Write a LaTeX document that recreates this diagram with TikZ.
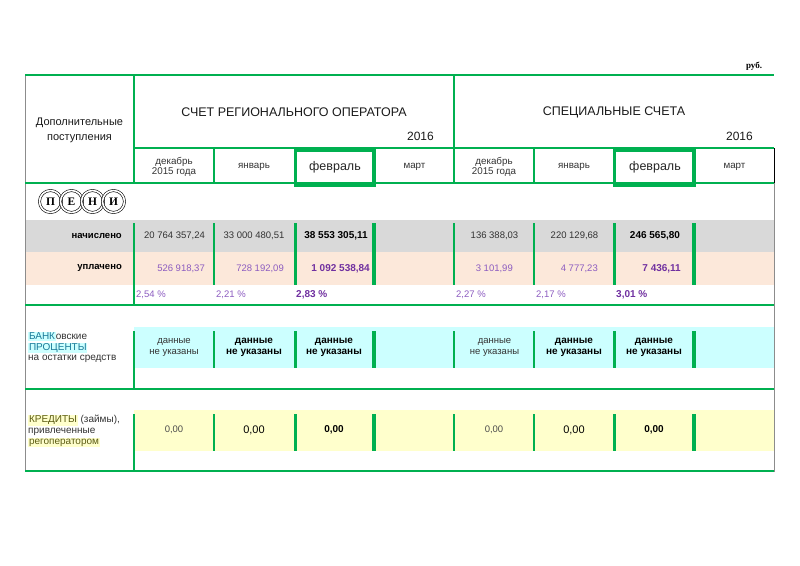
\documentclass[tikz,border=0pt]{standalone}
\usepackage{fontspec}
\setmainfont{Liberation Sans}
\newfontfamily\penifont{Liberation Serif}
\usetikzlibrary{positioning}
\definecolor{exgreen}{HTML}{00B050}
\definecolor{accrued}{HTML}{D9D9D9}
\definecolor{paidbg}{HTML}{FCE8DA}
\definecolor{bankbg}{HTML}{CCFFFF}
\definecolor{creditbg}{HTML}{FFFFCC}
\definecolor{violet}{HTML}{7030A0}
\definecolor{lightviolet}{HTML}{8C5CC0}
\definecolor{txt}{HTML}{333333}
\definecolor{bankteal}{HTML}{1B7A99}
\definecolor{creditolive}{HTML}{5C5C14}
\newcommand{\marked}[3]{{\setlength{\fboxsep}{0.8pt}\colorbox{#1}{\textcolor{#2}{#3}}}}
\tikzstyle{greenline} = [draw=exgreen,line width=2pt]
\tikzstyle{thickgreenline} = [draw=exgreen,line width=3.6pt]
\tikzstyle{greyborder} = [draw=black!45,line width=1pt]
\tikzstyle{cell} = [inner sep=0pt,text=txt,font=\fontsize{9.5}{11}\selectfont]
\tikzstyle{boldcell} = [inner sep=0pt,text=black,font=\fontsize{10}{11}\selectfont\bfseries]
\tikzstyle{month} = [inner sep=0pt,text=txt,align=center,font=\fontsize{9.8}{10.5}\selectfont]
\tikzstyle{bigmonth} = [inner sep=0pt,text=black!85,font=\fontsize{12.5}{14}\selectfont]
\tikzstyle{title} = [inner sep=0pt,text=black!90,font=\fontsize{12.5}{14}\selectfont]
\tikzstyle{sidelabel} = [inner sep=0pt,text=txt,align=left,font=\fontsize{10}{10.6}\selectfont]
\tikzstyle{rowlabel} = [inner sep=0pt,anchor=east,font=\fontsize{9.5}{11}\selectfont\bfseries]
\tikzstyle{pct} = [inner sep=0pt,anchor=west,text=lightviolet,font=\fontsize{9.5}{11}\selectfont]
\tikzstyle{boldpct} = [inner sep=0pt,anchor=west,text=violet,font=\fontsize{10}{11}\selectfont\bfseries]
\tikzstyle{penicircle} = [circle,draw=black,line width=0.6pt,double=white,double distance=1.6pt,minimum size=22pt,inner sep=0pt,font=\penifont\bfseries\fontsize{11.5}{12}\selectfont]

\begin{document}
\begin{tikzpicture}[x=1pt,y=-1pt]
\useasboundingbox (0,0) rectangle (800,565);

    % Coloured rows first
    \fill[accrued] (25,220) rectangle (774,252);
    \fill[paidbg] (25,252) rectangle (774,285);
    \fill[bankbg] (134,327) rectangle (774,368);
    \fill[creditbg] (134,410) rectangle (774,451);

    % Frame of the table
    \draw[greyborder] (25,75) -- (25,472);
    \draw[greyborder] (774,183) -- (774,472);
    \draw[black,line width=1pt] (774,148) -- (774,183);
    \foreach \y in {75,183,305,389,471}
        \draw[greenline] (25,\y) -- (774,\y);
    \draw[greenline] (134,148) -- (774,148);
    \foreach \x in {134,454.3}
        \draw[greenline] (\x,75) -- (\x,183);

    \node[font=\penifont\bfseries\fontsize{9}{10}\selectfont,inner sep=0pt] (rub) at (754,66) {руб.};
    \node[inner sep=0pt,align=center,text=black!90,font=\fontsize{11}{15.6}\selectfont] (extra) at (79.5,130.5) {Дополнительные\\поступления};

    % PENI sign
    \foreach \pos/\name/\label in {{(50.5,201.5)/P1/П}, {(71.5,201.5)/P2/Е}, {(92.5,201.5)/P3/Н}, {(113.5,201.5)/P4/И}}
        \node[penicircle] (\name) at \pos {\label};

    \node[rowlabel] (accr) at (122,236) {начислено};
    \node[rowlabel] (paid) at (122,268) {уплачено};
    \node[sidelabel,anchor=west] (bank) at (28,347.5) {\marked{bankbg}{bankteal}{БАНК}овские\\\marked{bankbg}{bankteal}{ПРОЦЕНТЫ}\\на остатки средств};
    \node[sidelabel,anchor=west] (credit) at (28,431) {\marked{creditbg}{creditolive}{КРЕДИТЫ} (займы),\\привлеченные\\\marked{creditbg}{creditolive}{регоператором}};

    \draw[greenline] (134,223) -- (134,305);
    \draw[greenline] (134,331) -- (134,389);
    \draw[greenline] (134,414) -- (134,471);

    % Regional operator account
    \def\dx{0};
    \node[title] (accA) at (294+\dx,112) {СЧЕТ РЕГИОНАЛЬНОГО ОПЕРАТОРА};
    \node[title,anchor=east,font=\fontsize{12}{13}\selectfont] (yearA) at (434+\dx,136) {2016};
    \draw[greenline] (214.3+\dx,148) -- (214.3+\dx,183);
    \foreach \pos/\name/\label in {{(174+\dx,167)/decA/{декабрь\\2015 года}}, {(254+\dx,167)/janA/январь}, {(414.5+\dx,167)/marA/март}}
        \node[month] (\name) at \pos {\label};
    \node[bigmonth] (febA) at (335+\dx,167.5) {февраль};
    \draw[thickgreenline] (295.5+\dx,150) rectangle (374+\dx,185);

    \foreach \x in {134,214.3}
        \foreach \top/\bot in {223/285, 331/368, 414/451}
            \draw[greenline] (\x+\dx,\top) -- (\x+\dx,\bot);
    \foreach \x in {295.5,374}
        \foreach \top/\bot in {223/285, 331/368, 414/451}
            \draw[thickgreenline] (\x+\dx,\top) -- (\x+\dx,\bot);

    \foreach \pos/\name/\label in {{(174.5+\dx,236)/accA1/20 764 357,24}, {(254+\dx,236)/accA2/33 000 480,51}}
        \node[cell] (\name) at \pos {\label};
    \node[boldcell] (accA3) at (336+\dx,236) {38 553 305,11};
    \foreach \pos/\name/\label in {{(205+\dx,268.5)/payA1/526 918,37}, {(284+\dx,268.5)/payA2/728 192,09}}
        \node[cell,anchor=east,text=lightviolet] (\name) at \pos {\label};
    \node[boldcell,anchor=east,text=violet] (payA3) at (370+\dx,268.5) {1 092 538,84};
    \node[pct] (pctA1) at (136+\dx,295) {2,54 \%};
    \node[pct] (pctA2) at (216+\dx,295) {2,21 \%};
    \node[boldpct] (pctA3) at (296+\dx,295) {2,83 \%};

    \node[month,font=\fontsize{9.5}{10.5}\selectfont] (bankA1) at (174+\dx,347.5) {данные\\не указаны};
    \foreach \pos/\name in {{(254+\dx,347.5)/bankA2}, {(334+\dx,347.5)/bankA3}}
        \node[boldcell,align=center] (\name) at \pos {данные\\не указаны};
    \node[cell,text=black!70] (credA1) at (174+\dx,430) {0,00};
    \node[cell,text=black,font=\fontsize{11}{12}\selectfont] (credA2) at (254+\dx,430) {0,00};
    \node[boldcell] (credA3) at (334+\dx,430) {0,00};

    % Special accounts
    \def\dx{320};
    \node[title] (accB) at (294+\dx,112) {СПЕЦИАЛЬНЫЕ СЧЕТА};
    \node[title,anchor=east,font=\fontsize{12}{13}\selectfont] (yearB) at (433+\dx,136) {2016};
    \draw[greenline] (214+\dx,148) -- (214+\dx,183);
    \foreach \pos/\name/\label in {{(174+\dx,167)/decB/{декабрь\\2015 года}}, {(254+\dx,167)/janB/январь}, {(414.5+\dx,167)/marB/март}}
        \node[month] (\name) at \pos {\label};
    \node[bigmonth] (febB) at (335+\dx,167.5) {февраль};
    \draw[thickgreenline] (294.3+\dx,150) rectangle (374.2+\dx,185);

    \foreach \x in {134.3,214}
        \foreach \top/\bot in {223/285, 331/368, 414/451}
            \draw[greenline] (\x+\dx,\top) -- (\x+\dx,\bot);
    \foreach \x in {294.3,374.2}
        \foreach \top/\bot in {223/285, 331/368, 414/451}
            \draw[thickgreenline] (\x+\dx,\top) -- (\x+\dx,\bot);

    \foreach \pos/\name/\label in {{(174.5+\dx,236)/accB1/136 388,03}, {(254.5+\dx,236)/accB2/220 129,68}}
        \node[cell] (\name) at \pos {\label};
    \node[boldcell] (accB3) at (335+\dx,236) {246 565,80};
    \foreach \pos/\name/\label in {{(193+\dx,268.5)/payB1/3 101,99}, {(278+\dx,268.5)/payB2/4 777,23}}
        \node[cell,anchor=east,text=lightviolet] (\name) at \pos {\label};
    \node[boldcell,anchor=east,text=violet] (payB3) at (361+\dx,268.5) {7 436,11};
    \node[pct] (pctB1) at (136+\dx,295) {2,27 \%};
    \node[pct] (pctB2) at (216+\dx,295) {2,17 \%};
    \node[boldpct] (pctB3) at (296+\dx,295) {3,01 \%};

    \node[month,font=\fontsize{9.5}{10.5}\selectfont] (bankB1) at (174.5+\dx,347.5) {данные\\не указаны};
    \foreach \pos/\name in {{(254+\dx,347.5)/bankB2}, {(334+\dx,347.5)/bankB3}}
        \node[boldcell,align=center] (\name) at \pos {данные\\не указаны};
    \node[cell,text=black!70] (credB1) at (174+\dx,430) {0,00};
    \node[cell,text=black,font=\fontsize{11}{12}\selectfont] (credB2) at (254+\dx,430) {0,00};
    \node[boldcell] (credB3) at (334+\dx,430) {0,00};

\end{tikzpicture}
\end{document}
